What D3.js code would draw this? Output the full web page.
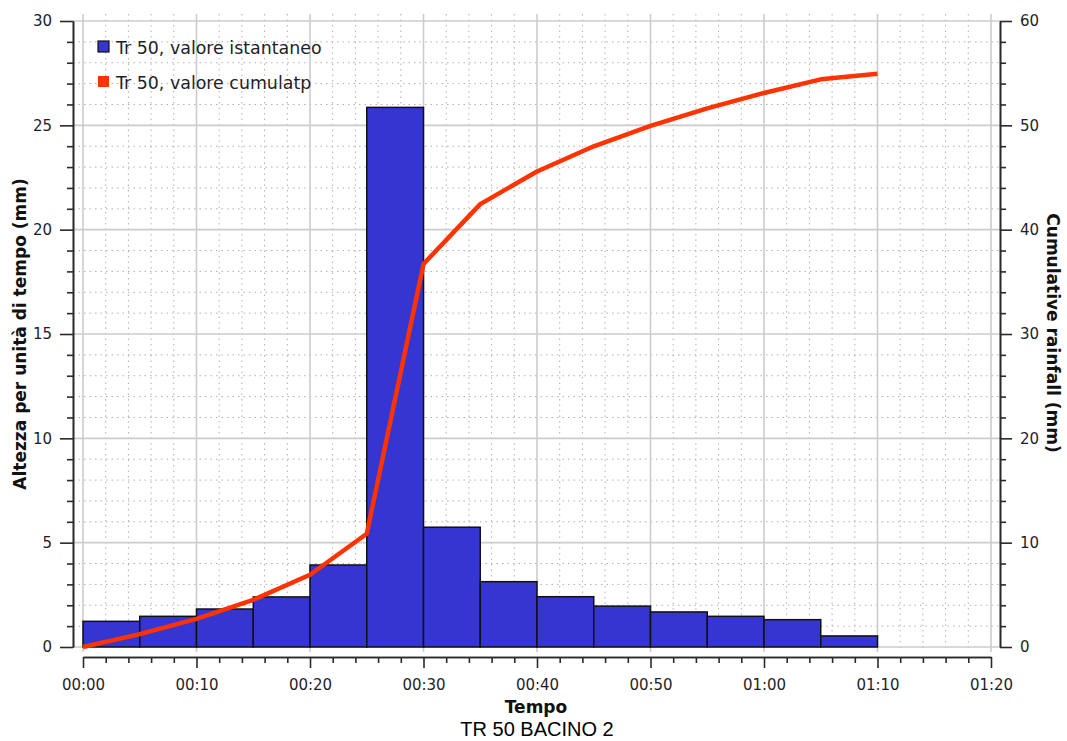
<!DOCTYPE html>
<html><head><meta charset="utf-8">
<script src="https://cdn.jsdelivr.net/npm/d3@7"></script>
<style>
html,body{margin:0;padding:0;background:#fff;}
svg{display:block;}
</style></head>
<body>
<svg id="chart" width="1067" height="741"></svg>
<script>
// ---- data ----
const intervalStart = [0,5,10,15,20,25,30,35,40,45,50,55,60,65]; // minutes
const intervalWidth = 5;
const instantValues = [1.23,1.47,1.82,2.40,3.93,25.86,5.74,3.13,2.41,1.96,1.68,1.47,1.31,0.53];
const cumulTimes = [0,5,10,15,20,25,30,35,40,45,50,55,60,65,70];
const cumulValues = [0,1.23,2.70,4.52,6.92,10.85,36.71,42.45,45.58,47.99,49.95,51.63,53.10,54.41,54.94];
const xTicks = [0,10,20,30,40,50,60,70,80];
const leftTicks = [0,5,10,15,20,25,30];
const rightTicks = [0,10,20,30,40,50,60];
const seriesNames = ["Tr 50, valore istantaneo","Tr 50, valore cumulatp"];
const seriesColors = ["#3535d2","#ff3300"];

const svg = d3.select("#chart");
const x = d3.scaleLinear().domain([0,80]).range([83,991]);
const yL = d3.scaleLinear().domain([0,30]).range([647,21]);
const yR = d3.scaleLinear().domain([0,60]).range([647,21]);
const fmt = m => String(Math.floor(m/60)).padStart(2,"0")+":"+String(m%60).padStart(2,"0");

// grid
const g = svg.append("g");
const minorX = d3.range(0,81,2).filter(v=>v%10!==0);
const minorY = d3.range(0,31,1).filter(v=>v%5!==0);
g.selectAll(".vmin").data(minorX).join("line")
  .attr("x1",d=>x(d)).attr("x2",d=>x(d)).attr("y1",14).attr("y2",652)
  .attr("stroke","#b0b0b0").attr("stroke-width",1).attr("stroke-dasharray","1.5,4");
g.selectAll(".hmin").data(minorY).join("line")
  .attr("x1",73).attr("x2",1000).attr("y1",d=>yL(d)).attr("y2",d=>yL(d))
  .attr("stroke","#b0b0b0").attr("stroke-width",1).attr("stroke-dasharray","1.5,4");
g.selectAll(".vmaj").data(xTicks).join("line")
  .attr("x1",d=>x(d)).attr("x2",d=>x(d)).attr("y1",14).attr("y2",652)
  .attr("stroke","#cccccc").attr("stroke-width",1.6);
g.selectAll(".hmaj").data(leftTicks).join("line")
  .attr("x1",73).attr("x2",1000).attr("y1",d=>yL(d)).attr("y2",d=>yL(d))
  .attr("stroke","#cccccc").attr("stroke-width",1.6);

// bars
svg.append("g").selectAll("rect").data(instantValues).join("rect")
  .attr("x",(d,i)=>x(intervalStart[i]))
  .attr("width",(d,i)=>x(intervalStart[i]+intervalWidth)-x(intervalStart[i]))
  .attr("y",d=>yL(d)).attr("height",d=>yL(0)-yL(d))
  .attr("fill",seriesColors[0]).attr("stroke","#111").attr("stroke-width",1.5);

// line
svg.append("path").datum(cumulValues)
  .attr("fill","none").attr("stroke",seriesColors[1]).attr("stroke-width",4.5)
  .attr("stroke-linejoin","round")
  .attr("d",d3.line().x((d,i)=>x(cumulTimes[i])).y(d=>yR(d)));

// axes
function styleAxis(sel){
  sel.selectAll("path,line").attr("stroke","#2a2a2a").attr("stroke-width",1.6);
  sel.selectAll("text").attr("fill","#1e1e2a").style("font-family","'DejaVu Sans'").style("font-size","15px");
}
const ax = svg.append("g").attr("transform","translate(73,0)");
ax.call(d3.axisLeft(yL).tickValues(minorY).tickSize(6).tickFormat("").tickSizeOuter(0));
ax.call(styleAxis);
const axM = svg.append("g").attr("transform","translate(73,0)");
axM.call(d3.axisLeft(yL).tickValues(leftTicks).tickSize(13).tickPadding(8).tickSizeOuter(0));
axM.call(styleAxis);

const ar = svg.append("g").attr("transform","translate(1000,0)");
ar.call(d3.axisRight(yR).tickValues(d3.range(0,61,2).filter(v=>v%10!==0)).tickSize(6).tickFormat("").tickSizeOuter(0));
ar.call(styleAxis);
const arM = svg.append("g").attr("transform","translate(1000,0)");
arM.call(d3.axisRight(yR).tickValues(rightTicks).tickSize(12).tickPadding(8).tickSizeOuter(0));
arM.call(styleAxis);

const bx = svg.append("g").attr("transform","translate(0,657)");
bx.call(d3.axisBottom(x).tickValues(minorX).tickSize(6).tickFormat("").tickSizeOuter(0));
bx.call(styleAxis);
const bxM = svg.append("g").attr("transform","translate(0,657)");
bxM.call(d3.axisBottom(x).tickValues(xTicks).tickSize(11).tickPadding(11).tickFormat(fmt).tickSizeOuter(0));
bxM.call(styleAxis);

// titles
svg.append("text").attr("transform","translate(26,334) rotate(-90)")
  .attr("text-anchor","middle").style("font-family","'DejaVu Sans'").style("font-weight","bold")
  .style("font-size","17px").attr("fill","#111").text("Altezza per unità di tempo (mm)");
svg.append("text").attr("transform","translate(1047,333) rotate(90)")
  .attr("text-anchor","middle").style("font-family","'DejaVu Sans'").style("font-weight","bold")
  .style("font-size","17px").attr("fill","#111").text("Cumulative rainfall (mm)");
svg.append("text").attr("x",536).attr("y",713).attr("text-anchor","middle")
  .style("font-family","'DejaVu Sans'").style("font-weight","bold").style("font-size","17px")
  .attr("fill","#111").text("Tempo");
svg.append("text").attr("x",537).attr("y",736).attr("text-anchor","middle")
  .style("font-family","'Liberation Sans'").style("font-size","20px")
  .attr("fill","#000").text("TR 50 BACINO 2");

// legend
const leg = svg.append("g");
seriesNames.forEach((n,i)=>{
  const yy = 41 + i*35;
  leg.append("rect").attr("x",98).attr("y",yy).attr("width",11).attr("height",11)
    .attr("fill",seriesColors[i]).attr("stroke",i===0?"#111":"none").attr("stroke-width",1.2);
  leg.append("text").attr("x",116).attr("y",yy+13).style("font-family","'DejaVu Sans'")
    .style("font-size","17.4px").attr("fill","#1e1e2a").text(n);
});
</script>
</body></html>
